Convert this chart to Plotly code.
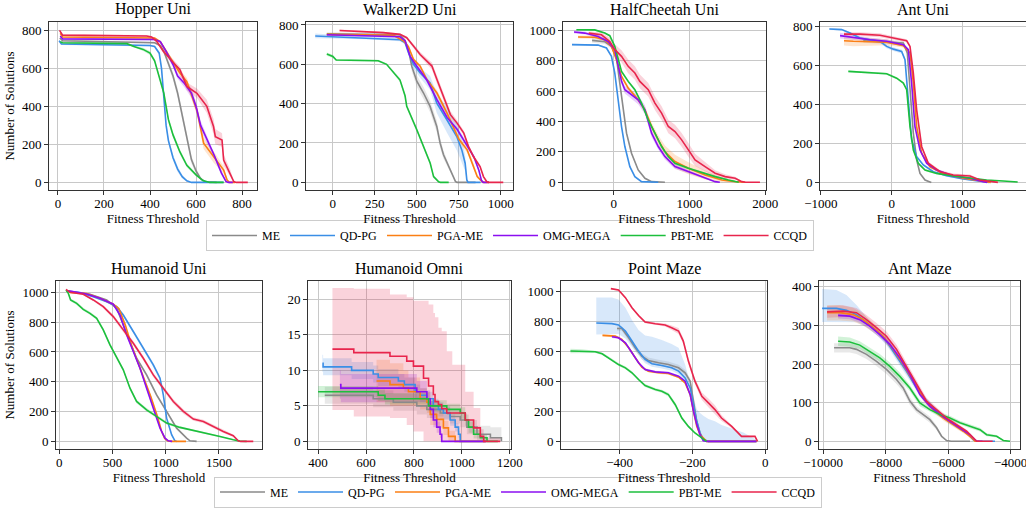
import plotly.graph_objects as go

SERIES = ["ME", "QD-PG", "PGA-ME", "OMG-MEGA", "PBT-ME", "CCQD"]
COLORS = ["#8a8a8a", "#3a8ee6", "#fb7f14", "#8b0ff0", "#1cbf3c", "#e8254c"]

# each point: (fitness threshold, number of solutions, band half-width[, band upper])
hopper_me = [(8,760,5),(20,745,5),(420,735,5),(445,720,8),(460,690,10),(480,620,15),(500,560,20),(520,470,25),(540,350,25),(560,230,25),(580,120,20),(600,60,15),(620,20,10),(640,3,3),(690,0,0)]
hopper_qdpg = [(5,745,8),(15,728,5),(400,720,5),(420,715,5),(440,680,8),(450,600,10),(460,450,12),(470,300,12),(480,220,15),(500,130,15),(520,70,15),(540,30,10),(560,8,5),(580,0,0),(720,0,0)]
hopper_pgame = [(10,785,5),(20,765,5),(420,760,5),(445,740,5),(470,690,10),(500,630,15),(530,575,15),(560,530,20),(604,380,25),(633,206,30),(676,135,30),(720,65,20),(735,12,10),(745,0,0),(770,0,0)]
hopper_omg = [(10,770,5),(20,755,5),(420,752,5),(445,740,5),(470,690,10),(500,620,15),(520,560,15),(550,520,20),(580,470,25),(600,400,25),(620,300,25),(650,220,20),(680,140,15),(710,50,10),(730,5,3),(740,0,0),(760,0,0)]
hopper_pbt = [(10,740,5),(20,735,5),(300,730,5),(330,715,5),(370,700,8),(400,680,10),(420,640,10),(440,560,12),(460,470,15),(480,330,15),(500,250,15),(530,160,12),(560,90,10),(600,40,8),(630,10,5),(660,0,0),(720,0,0)]
hopper_ccqd = [(7,800,5),(20,775,5),(385,770,5),(407,765,5),(429,742,8),(458,690,10),(502,630,15),(530,593,15),(560,505,20),(604,469,25),(647,400,35),(676,294,40),(684,241,40),(713,223,35),(720,118,30),(749,47,20),(764,4,5),(775,0,0),(825,0,0)]

walker_me = [(-36,755,8),(400,750,8),(430,720,10),(450,676,15),(470,590,25),(500,514,30),(540,454,30),(579,386,30),(619,284,30),(639,199,25),(659,140,20),(690,80,15),(715,30,10),(730,5,3),(740,0,0),(850,0,0)]
walker_qdpg = [(-105,744,12),(0,740,10),(200,735,8),(400,725,8),(430,710,10),(450,660,15),(480,600,20),(520,556,25),(579,505,35),(619,403,50),(679,318,65),(738,233,70),(768,165,60),(788,97,40),(798,12,10),(805,0,0),(880,0,0)]
walker_pgame = [(-36,752,5),(360,748,5),(420,720,8),(450,690,10),(480,625,10),(520,590,10),(560,522,12),(620,454,15),(680,352,15),(750,220,15),(800,165,15),(840,80,12),(860,29,8),(890,3,3),(900,0,0),(930,0,0)]
walker_omg = [(-36,750,5),(400,740,5),(430,720,8),(460,640,10),(500,590,10),(560,520,12),(620,420,12),(680,330,12),(740,270,12),(800,190,12),(840,130,10),(870,60,8),(885,10,3),(895,0,0),(930,0,0)]
walker_pbt = [(-36,652,8),(0,640,8),(20,622,5),(270,618,5),(320,600,5),(360,560,8),(400,520,10),(430,440,10),(440,386,10),(500,267,12),(540,182,12),(580,97,10),(600,29,8),(630,3,3),(640,0,0),(690,0,0)]
walker_ccqd = [(40,772,5),(300,761,5),(400,752,5),(440,735,8),(480,693,10),(520,650,12),(560,616,15),(590,591,18),(620,523,20),(660,437,20),(700,344,18),(740,301,15),(780,250,12),(808,182,10),(837,131,10),(877,80,8),(897,29,5),(917,3,3),(930,0,0),(1015,0,0)]

cheetah_me = [(-287,934,15),(-119,925,15),(-31,895,15),(35,818,15),(79,653,15),(124,477,15),(168,323,15),(234,191,12),(322,81,8),(411,26,5),(499,4,2),(675,0,0)]
cheetah_qdpg = [(-552,906,5),(-208,903,5),(-97,884,5),(-31,829,5),(13,719,8),(57,543,10),(102,367,10),(146,235,8),(212,103,6),(278,37,4),(366,4,2),(587,0,0)]
cheetah_pgame = [(-472,956,10),(-252,955,10),(-119,938,10),(-31,895,10),(35,807,10),(102,697,12),(190,620,15),(322,543,15),(411,477,20),(499,367,25),(587,279,30),(675,202,40),(808,136,45),(985,92,40),(1205,48,30),(1426,15,15),(1603,4,5),(1735,0,0)]
cheetah_omg = [(-525,989,10),(-384,982,10),(-208,960,10),(-75,927,10),(13,873,12),(57,763,15),(102,664,20),(146,609,25),(234,576,30),(322,543,30),(411,477,30),(499,323,25),(587,235,20),(675,169,20),(808,103,15),(985,70,10),(1161,37,8),(1338,4,3),(1400,0,0)]
cheetah_pbt = [(-494,1004,5),(-252,1003,5),(-119,982,5),(-53,965,5),(13,895,8),(57,807,10),(102,730,10),(190,664,10),(278,609,10),(366,521,10),(455,411,10),(543,323,10),(631,235,10),(720,169,10),(808,125,10),(985,92,8),(1117,70,8),(1338,37,5),(1514,15,4),(1603,4,2),(1650,0,0)]
cheetah_ccqd = [(-331,982,10),(-163,971,15),(-53,927,25),(13,873,35),(102,829,40),(190,763,45),(278,719,45),(344,664,45),(455,609,45),(543,521,45),(631,455,45),(720,367,45),(808,334,45),(896,279,45),(985,213,45),(1073,147,40),(1205,103,30),(1338,59,20),(1470,37,15),(1603,26,10),(1691,4,5),(1740,0,0),(1930,0,0)]

ant_me = [(-400,726,10),(165,714,10),(221,663,10),(259,492,10),(306,252,10),(353,115,8),(400,46,5),(471,12,3),(541,2,1),(560,0,0)]
ant_qdpg = [(-880,786,5),(-706,783,5),(-588,766,5),(-447,740,5),(-306,731,5),(-165,723,8),(-71,697,10),(24,683,10),(141,671,10),(188,629,10),(235,423,10),(282,218,10),(353,132,8),(447,89,6),(588,55,5),(776,34,5),(1012,17,4),(1200,7,3),(1341,2,1),(1380,0,0)]
ant_pgame = [(-673,726,25),(-541,723,25),(-71,718,15),(165,701,10),(259,663,10),(306,509,10),(353,286,10),(424,149,8),(541,80,8),(729,46,6),(1012,21,5),(1200,12,4),(1365,2,1),(1400,0,0)]
ant_omg = [(-729,752,15),(-494,740,12),(-306,731,10),(-71,723,10),(165,706,8),(235,680,8),(282,509,10),(329,286,10),(400,166,8),(494,98,8),(635,63,6),(870,33,5),(1106,21,4),(1294,3,2),(1350,0,0)]
ant_pbt = [(-612,569,5),(-306,564,5),(-71,557,5),(71,534,5),(165,509,5),(212,475,5),(259,286,8),(306,166,8),(376,98,6),(471,63,5),(635,46,5),(870,33,4),(1106,21,4),(1341,12,3),(1576,7,2),(1779,2,1)]
ant_ccqd = [(-673,760,10),(-447,760,10),(-165,754,10),(24,740,8),(212,726,8),(259,697,10),(306,560,12),(353,372,12),(424,183,10),(518,98,8),(682,55,8),(870,38,8),(1106,33,8),(1247,12,5),(1482,3,2),(1500,0,0)]

humanoid_me = [(100,1004,5),(288,987,5),(445,949,5),(539,893,8),(601,781,10),(664,670,12),(726,558,12),(820,446,12),(914,312,12),(1008,201,10),(1102,89,8),(1196,22,5),(1227,4,2),(1290,0,0)]
humanoid_qdpg = [(69,1009,5),(194,998,5),(319,971,5),(445,937,5),(539,904,8),(601,848,10),(695,737,12),(789,625,15),(883,513,15),(946,424,15),(977,312,15),(1008,156,12),(1055,45,8),(1086,4,3),(1102,0,0)]
humanoid_pgame = [(100,1000,5),(257,992,5),(382,960,5),(507,920,8),(560,890,10),(620,780,12),(680,640,12),(740,530,12),(800,420,12),(860,300,12),(920,170,12),(960,70,10),(990,20,5),(1020,3,2),(1050,0,0),(1190,0,0)]
humanoid_omg = [(85,1010,5),(257,989,5),(382,960,5),(507,920,8),(570,848,10),(633,714,10),(695,603,10),(758,491,10),(820,357,10),(883,223,10),(946,89,8),(993,22,5),(1024,4,2),(1060,0,0)]
humanoid_pbt = [(63,1016,5),(85,993,8),(106,949,10),(163,926,10),(225,886,10),(288,859,10),(351,826,10),(413,748,12),(476,647,12),(539,558,12),(601,480,12),(664,357,12),(726,268,12),(820,212,12),(914,167,10),(1008,123,10),(1133,94,8),(1259,74,8),(1384,56,6),(1509,33,5),(1634,11,3),(1697,2,1),(1760,0,0)]
humanoid_ccqd = [(63,1020,5),(100,1000,5),(225,987,5),(319,949,8),(413,904,10),(507,837,12),(601,748,15),(695,658,15),(789,558,15),(883,446,15),(977,357,15),(1071,268,15),(1165,201,15),(1259,150,12),(1353,134,12),(1447,100,12),(1540,67,10),(1634,38,8),(1681,4,3),(1700,0,0),(1822,0,0)]

omni_me = [(428,6.5,1.2),(630,6,1.2),(714,5.5,1.2),(812,5,1.2),(854,4.5,1.2),(910,4,1),(951,3.5,1),(993,3,1),(1021,2,1),(1063,1,1.2),(1119,0.5,1.5),(1165,0,0)]
omni_qdpg = [(418,11,1.2),(421,10.5,1.2),(540,10,1.2),(630,9.5,1.2),(651,9,1.2),(735,8.5,1),(760,8,1),(805,7,1),(826,6.5,1),(854,6,1),(881,5,1),(902,4.5,1),(923,4,0.8),(951,3,0.8),(972,2,0.6),(986,1,0.5),(993,0,0),(1100,0,0)]
omni_pgame = [(644,8.5,3),(700,8,3),(756,7.5,2.5),(777,7,2),(826,6,1.5),(854,5.5,1.5),(868,3.8,1.5),(895,3.1,1.2),(923,1.9,1),(944,0.7,0.8),(972,0,0),(1100,0,0)]
omni_omg = [(491,8,2),(495,7.5,2),(742,7.5,2),(812,7,1.5),(854,6,1.2),(868,4.5,1.2),(881,3,1),(895,2,0.8),(909,1,0.5),(916,0,0),(1100,0,0)]
omni_pbt = [(400,7,0.8),(651,6.5,0.8),(679,6,0.8),(861,5,0.8),(937,4.5,0.8),(993,4,0.8),(1014,3,0.8),(1028,2,0.8),(1049,1,0.6),(1077,0.5,0.5),(1105,0,0),(1150,0,0)]
omni_ccqd = [(460,13,8.6),(549,12.5,9.0),(700,12,8.7),(770,11.3,9.0),(798,10.6,9.2),(840,8.9,10.9),(861,7.8,11.5),(881,6.6,11.5),(888,5.6,11.9),(902,5.2,10.8),(916,4.6,10.9),(937,4.0,8.7),(960,4.0,6.8),(1014,3.0,4.0),(1049,1.9,2.8),(1077,0.7,1.0),(1091,0,0.5),(1160,0,0)]

maze_me = [(-407,754,15),(-394,754,15),(-375,692,20),(-357,625,20),(-339,569,20),(-321,540,20),(-293,525,20),(-266,513,20),(-238,491,20),(-220,458,20),(-206,402,20),(-197,268,15),(-188,134,10),(-179,56,5),(-170,11,3),(-156,0,0),(-24,0,0)]
maze_qdpg = [(-464,790,76,170),(-421,786,70,174),(-403,777,60,170),(-384,737,50,156),(-366,670,40,140),(-348,603,30,140),(-330,547,25,160),(-311,518,20,180),(-284,507,20,170),(-257,491,20,160),(-238,469,20,156),(-220,424,20,89),(-206,357,20,30),(-197,245,20,60),(-188,134,20,80),(-179,56,20,134),(-170,11,11,160),(-156,0,0,150),(-138,0,0,134),(-120,0,0,110),(-92,0,0,89),(-60,0,0,60),(-24,0,0,11)]
maze_pgame = [(-447,708,8),(-412,703,8),(-394,681,8),(-375,625,8),(-357,558,8),(-339,496,8),(-321,469,8),(-293,458,8),(-266,453,8),(-238,429,8),(-220,391,8),(-206,312,8),(-197,201,8),(-188,100,6),(-179,45,4),(-165,4,2),(-161,0,0),(-24,0,0)]
maze_omg = [(-421,699,8),(-403,692,8),(-384,658,8),(-366,592,8),(-348,525,8),(-330,480,8),(-302,464,8),(-266,458,8),(-238,435,8),(-220,402,8),(-206,312,8),(-197,201,8),(-188,112,6),(-179,45,4),(-170,4,2),(-160,0,0),(-24,0,0)]
maze_pbt = [(-535,603,15),(-503,603,12),(-467,598,8),(-448,585,8),(-430,558,8),(-403,513,10),(-384,491,10),(-366,458,10),(-348,413,10),(-330,373,10),(-302,346,10),(-284,335,10),(-266,312,12),(-247,245,15),(-229,156,12),(-211,100,8),(-193,56,5),(-174,22,3),(-161,0,0)]
maze_ccqd = [(-424,1020,5),(-403,1011,5),(-384,960,8),(-366,893,8),(-348,841,8),(-330,797,8),(-302,786,8),(-275,777,10),(-257,759,15),(-238,737,20),(-225,670,20),(-211,536,20),(-193,402,20),(-174,301,25),(-156,257,30),(-138,212,30),(-120,156,20),(-92,100,10),(-65,33,5),(-28,33,5),(-21,0,0)]

antmaze_me = [(-9648,242,12),(-9145,242,12),(-8932,238,12),(-8612,225,12),(-8291,207,12),(-7971,186,12),(-7650,160,12),(-7437,138,10),(-7223,104,10),(-7010,82,8),(-6796,69,8),(-6583,56,8),(-6369,35,6),(-6209,13,4),(-6049,2,2),(-5900,0,0),(-5300,0,0)]
antmaze_qdpg = [(-10030,344,35,50),(-9573,344,35,48),(-9252,339,30,40),(-8932,328,20,25),(-8612,307,12,15),(-8291,285,10,10),(-7971,259,10,10),(-7650,220,10,10),(-7330,181,10,10),(-7010,138,8,8),(-6690,104,8,8),(-6369,78,6,6),(-6049,56,6,6),(-5728,39,5,5),(-5408,22,4,4),(-5194,4,2,2),(-5087,0,0,0),(-4500,0,0,0)]
antmaze_pgame = [(-9872,333,20),(-9466,333,20),(-9039,328,18),(-8718,315,15),(-8398,294,12),(-8078,272,10),(-7757,238,10),(-7437,199,10),(-7116,156,8),(-6796,112,8),(-6476,82,6),(-6155,60,6),(-5835,43,5),(-5514,26,4),(-5247,9,2),(-5140,0,0),(-5000,0,0)]
antmaze_omg = [(-9519,326,8),(-9145,324,8),(-8825,315,8),(-8505,298,8),(-8184,276,8),(-7864,251,8),(-7544,216,8),(-7223,173,8),(-6903,121,6),(-6583,91,6),(-6262,69,5),(-5942,52,5),(-5621,35,4),(-5301,17,3),(-5140,4,2),(-5080,0,0),(-4900,0,0)]
antmaze_pbt = [(-9519,259,12),(-9145,257,12),(-8825,249,10),(-8505,233,10),(-8184,216,10),(-7864,194,10),(-7544,168,10),(-7223,138,8),(-6903,99,8),(-6583,82,6),(-6262,69,6),(-5942,60,6),(-5621,48,5),(-5301,39,5),(-4980,30,5),(-4767,17,4),(-4447,13,3),(-4233,2,1),(-4020,0,0)]
antmaze_ccqd = [(-9872,335,15),(-9359,337,15),(-8932,333,12),(-8612,315,12),(-8291,294,12),(-7971,272,12),(-7650,238,12),(-7330,194,10),(-7010,147,10),(-6690,104,8),(-6369,82,6),(-6049,60,6),(-5728,43,5),(-5408,26,4),(-5194,9,2),(-5087,0,0),(-4575,0,0)]

W, H = 1026, 508
ROWS = [(22, 190), (281, 449)]

PANELS = [
    dict(title="Hopper Uni", data=[hopper_me, hopper_qdpg, hopper_pgame, hopper_omg, hopper_pbt, hopper_ccqd],
         xr=[-39, 865], yr=[-40, 844], xt=[0, 200, 400, 600, 800], yt=[0, 200, 400, 600, 800], px=(49, 257), row=0),
    dict(title="Walker2D Uni", data=[walker_me, walker_qdpg, walker_pgame, walker_omg, walker_pbt, walker_ccqd],
         xr=[-160, 1073], yr=[-39, 815], xt=[0, 250, 500, 750, 1000], yt=[0, 200, 400, 600, 800], px=(306, 513), row=0),
    dict(title="HalfCheetah Uni", data=[cheetah_me, cheetah_qdpg, cheetah_pgame, cheetah_omg, cheetah_pbt, cheetah_ccqd],
         xr=[-671, 2010], yr=[-51, 1055], xt=[0, 1000, 2000], yt=[0, 200, 400, 600, 800, 1000], px=(563, 766), row=0),
    dict(title="Ant Uni", data=[ant_me, ant_qdpg, ant_pgame, ant_omg, ant_pbt, ant_ccqd],
         xr=[-1012, 1897], yr=[-39, 822], xt=[-1000, 0, 1000], yt=[0, 200, 400, 600, 800], px=(820, 1026), row=0),
    dict(title="Humanoid Uni", data=[humanoid_me, humanoid_qdpg, humanoid_pgame, humanoid_omg, humanoid_pbt, humanoid_ccqd],
         xr=[-31, 1904], yr=[-51, 1076], xt=[0, 500, 1000, 1500], yt=[0, 200, 400, 600, 800, 1000], px=(56, 262), row=1),
    dict(title="Humanoid Omni", data=[omni_me, omni_qdpg, omni_pgame, omni_omg, omni_pbt, omni_ccqd],
         xr=[358, 1205], yr=[-1.08, 22.6], xt=[400, 600, 800, 1000, 1200], yt=[0, 5, 10, 15, 20], px=(308, 511), row=1, step=True),
    dict(title="Point Maze", data=[maze_me, maze_qdpg, maze_pgame, maze_omg, maze_pbt, maze_ccqd],
         xr=[-561, 5], yr=[-51, 1071], xt=[-400, -200, 0], yt=[0, 200, 400, 600, 800, 1000], px=(561, 767), row=1),
    dict(title="Ant Maze", data=[antmaze_me, antmaze_qdpg, antmaze_pgame, antmaze_omg, antmaze_pbt, antmaze_ccqd],
         xr=[-10130, -3700], yr=[-20, 415], xt=[-10000, -8000, -6000, -4000], yt=[0, 100, 200, 300, 400], px=(819, 1020), row=1),
]

FONT = "Liberation Serif"


def rgba(hex_color, a):
    h = hex_color.lstrip("#")
    return "rgba(%d,%d,%d,%.2f)" % (int(h[0:2], 16), int(h[2:4], 16), int(h[4:6], 16), a)


def fmt(v):
    return str(v).replace("-", "\u2212")


fig = go.Figure()
layout = {}
annotations = []
for i, p in enumerate(PANELS):
    n = "" if i == 0 else str(i + 1)
    xa, ya = "x" + n, "y" + n
    shape = "hv" if p.get("step") else "linear"
    for k, pts in enumerate(p["data"]):
        xs = [q[0] for q in pts]
        ys = [q[1] for q in pts]
        dn = [q[2] for q in pts]
        up = [q[3] if len(q) > 3 else q[2] for q in pts]
        lo = [max(y - d, 0) for y, d in zip(ys, dn)]
        hi = [y + u for y, u in zip(ys, up)]
        fig.add_trace(go.Scatter(x=xs, y=lo, mode="lines", line=dict(width=0, shape=shape),
                                 xaxis=xa, yaxis=ya, showlegend=False, hoverinfo="skip"))
        fig.add_trace(go.Scatter(x=xs, y=hi, mode="lines", line=dict(width=0, shape=shape),
                                 fill="tonexty", fillcolor=rgba(COLORS[k], 0.2),
                                 xaxis=xa, yaxis=ya, showlegend=False, hoverinfo="skip"))
    for k, pts in enumerate(p["data"]):
        xs = [q[0] for q in pts]
        ys = [q[1] for q in pts]
        show = i in (0, 4)
        fig.add_trace(go.Scatter(x=xs, y=ys, mode="lines", name=SERIES[k],
                                 line=dict(color=COLORS[k], width=1.6, shape=shape),
                                 xaxis=xa, yaxis=ya, showlegend=show,
                                 legend="legend" if i == 0 else "legend2"))
    top, bot = ROWS[p["row"]]
    axcommon = dict(showline=True, mirror=True, linecolor="#333333", linewidth=1,
                    ticks="outside", ticklen=4, tickcolor="#333333", tickwidth=1,
                    showgrid=True, gridcolor="#c8c8c8", gridwidth=1, zeroline=False,
                    automargin=False, ticklabeloverflow="allow",
                    tickfont=dict(family=FONT, size=13, color="black"))
    layout["xaxis" + n] = dict(axcommon, domain=[p["px"][0] / W, p["px"][1] / W],
                               range=p["xr"], anchor=ya, tickvals=p["xt"],
                               ticktext=[fmt(v) for v in p["xt"]],
                               ticklabelstandoff=-3,
                               title=dict(text="Fitness Threshold", standoff=2,
                                          font=dict(family=FONT, size=13, color="black")))
    layout["yaxis" + n] = dict(axcommon, domain=[1 - bot / H, 1 - top / H],
                               range=p["yr"], anchor=xa, tickvals=p["yt"],
                               ticktext=[fmt(v) for v in p["yt"]])
    if i in (0, 4):
        layout["yaxis" + n]["title"] = dict(text="Number of Solutions", standoff=4,
                                            font=dict(family=FONT, size=13, color="black"))
    annotations.append(dict(text=p["title"], x=(p["px"][0] + p["px"][1]) / 2 / W, y=1 - top / H,
                            xref="paper", yref="paper", xanchor="center", yanchor="bottom",
                            yshift=2, showarrow=False,
                            font=dict(family=FONT, size=16, color="black")))

legend_common = dict(orientation="h", xanchor="center", yanchor="middle", traceorder="normal",
                     bordercolor="#cccccc", borderwidth=1, bgcolor="white",
                     itemwidth=45,
                     font=dict(family=FONT, size=12, color="black"))
fig.update_layout(
    width=W, height=H, autosize=False,
    margin=dict(l=0, r=0, t=0, b=0, autoexpand=False),
    paper_bgcolor="white", plot_bgcolor="white",
    font=dict(family=FONT, size=12, color="black"),
    annotations=annotations,
    legend=dict(legend_common, x=510 / W, y=1 - 235.5 / H),
    legend2=dict(legend_common, x=518 / W, y=1 - 492 / H),
    **layout,
)
fig.write_html("out.html", config={"displayModeBar": False},
               post_script="document.body.style.margin='0px';document.body.style.overflow='hidden';")
